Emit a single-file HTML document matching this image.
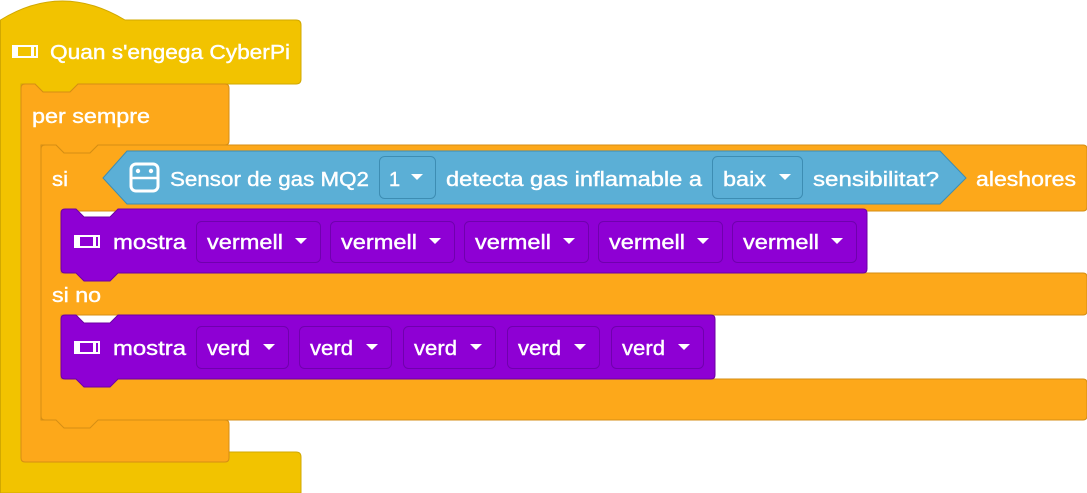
<!DOCTYPE html>
<html><head><meta charset="utf-8"><style>
html,body{margin:0;padding:0;background:#fff;width:1087px;height:493px;overflow:hidden}
svg{display:block}
text{font-family:"Liberation Sans",sans-serif;font-size:20px;fill:#fff;stroke:#fff;stroke-width:0.4}
</style></head><body>
<svg width="1087" height="493" viewBox="0 0 1087 493">
<path d="M0.5,20 Q62,-18 125,20 L296,20 Q301,20 301,25 L301,79 Q301,84 296,84 L78,84 L70,92 L43,92 L35,84 L21,84 L21,452 L296,452 Q301,452 301,457 L301,493 L0.5,493 Z" fill="#F2C300" stroke="#D1A800" stroke-width="1"/>
<path d="M21,88 Q21,84 25,84 L35,84 L43,92 L70,92 L78,84 L225,84 Q229,84 229,88 L229,141 Q229,145 225,145 L98,145 L90,153 L64,153 L56,145 L41,145 L41,420 L225,420 Q229,420 229,424 L229,458 Q229,462 225,462 L25,462 Q21,462 21,458 Z" fill="#FDA81A" stroke="#D58E14" stroke-width="1"/>
<path d="M41,149 Q41,145 45,145 L56,145 L64,153 L90,153 L98,145 L1083,145 Q1087,145 1087,149 L1087,207 Q1087,211 1083,211 L61,211 L61,273 L1083,273 Q1087,273 1087,277 L1087,311 Q1087,315 1083,315 L61,315 L61,379 L1083,379 Q1087,379 1087,383 L1087,416 Q1087,420 1083,420 L98,420 L90,428 L64,428 L56,420 L45,420 Q41,420 41,416 Z" fill="#FDA81A" stroke="#D58E14" stroke-width="1"/>
<path d="M127,151 L940,151 L966,178 L940,204 L127,204 L103,178 Z" fill="#5BAFD6" stroke="#3D8DB3" stroke-width="1"/>
<path d="M61,213 Q61,209 65,209 L76,209 L84,217 L110,217 L118,209 L863,209 Q867,209 867,213 L867,269 Q867,273 863,273 L118,273 L110,281 L84,281 L76,273 L65,273 Q61,273 61,269 Z" fill="#8E00D4" stroke="#6C00A3" stroke-width="1"/>
<path d="M61,319 Q61,315 65,315 L76,315 L84,323 L110,323 L118,315 L711,315 Q715,315 715,319 L715,375 Q715,379 711,379 L118,379 L110,387 L84,387 L76,379 L65,379 Q61,379 61,375 Z" fill="#8E00D4" stroke="#6C00A3" stroke-width="1"/>
<text x="50" y="59" textLength="240" lengthAdjust="spacingAndGlyphs">Quan s'engega CyberPi</text>
<text x="32" y="123" textLength="118" lengthAdjust="spacingAndGlyphs">per sempre</text>
<text x="52" y="186" textLength="16" lengthAdjust="spacingAndGlyphs">si</text>
<text x="976" y="186" textLength="100" lengthAdjust="spacingAndGlyphs">aleshores</text>
<text x="52" y="302" textLength="49" lengthAdjust="spacingAndGlyphs">si no</text>
<text x="170" y="186" textLength="199" lengthAdjust="spacingAndGlyphs">Sensor de gas MQ2</text>
<text x="446" y="186" textLength="256" lengthAdjust="spacingAndGlyphs">detecta gas inflamable a</text>
<text x="813" y="186" textLength="126" lengthAdjust="spacingAndGlyphs">sensibilitat?</text>
<rect x="379.5" y="156.5" width="56" height="42" rx="5" fill="#5BAFD6" stroke="#3D8DB3"/>
<text x="389" y="186">1</text><path d="M411,174 h12 l-6,6 z" fill="#fff"/>
<rect x="712.5" y="156.5" width="90" height="42" rx="5" fill="#5BAFD6" stroke="#3D8DB3"/>
<text x="723" y="186" textLength="43" lengthAdjust="spacingAndGlyphs">baix</text><path d="M779,174 h12 l-6,6 z" fill="#fff"/>
<rect x="131" y="164" width="27" height="27" rx="5" fill="none" stroke="#fff" stroke-width="3"/>
<line x1="131" y1="178" x2="158" y2="178" stroke="#fff" stroke-width="2.5"/>
<circle cx="138" cy="171" r="2.2" fill="#fff"/><circle cx="151" cy="171" r="2.2" fill="#fff"/>
<g fill="none" stroke="#fff" stroke-width="2">
<rect x="13" y="46" width="24" height="11"/>
<rect x="75" y="236" width="24" height="11"/>
<rect x="75" y="342" width="24" height="11"/>
</g>
<g fill="#fff">
<rect x="12" y="45" width="6" height="13"/><rect x="31" y="45" width="3" height="13"/>
<rect x="74" y="235" width="6" height="13"/><rect x="93" y="235" width="3" height="13"/>
<rect x="74" y="341" width="6" height="13"/><rect x="93" y="341" width="3" height="13"/>
</g>
<text x="113" y="249" textLength="73" lengthAdjust="spacingAndGlyphs">mostra</text>
<text x="113" y="355" textLength="73" lengthAdjust="spacingAndGlyphs">mostra</text>
<g fill="#8E00D4" stroke="#7000AE">
<rect x="196.5" y="221.5" width="124" height="41" rx="5"/>
<rect x="330.5" y="221.5" width="124" height="41" rx="5"/>
<rect x="464.5" y="221.5" width="124" height="41" rx="5"/>
<rect x="598.5" y="221.5" width="124" height="41" rx="5"/>
<rect x="732.5" y="221.5" width="124" height="41" rx="5"/>
<rect x="196.5" y="326.5" width="92" height="42" rx="5"/>
<rect x="299.5" y="326.5" width="92" height="42" rx="5"/>
<rect x="403.5" y="326.5" width="92" height="42" rx="5"/>
<rect x="507.5" y="326.5" width="92" height="42" rx="5"/>
<rect x="611.5" y="326.5" width="92" height="42" rx="5"/>
</g>
<g>
<text x="207" y="249" textLength="76" lengthAdjust="spacingAndGlyphs">vermell</text>
<text x="341" y="249" textLength="76" lengthAdjust="spacingAndGlyphs">vermell</text>
<text x="475" y="249" textLength="76" lengthAdjust="spacingAndGlyphs">vermell</text>
<text x="609" y="249" textLength="76" lengthAdjust="spacingAndGlyphs">vermell</text>
<text x="743" y="249" textLength="76" lengthAdjust="spacingAndGlyphs">vermell</text>
<text x="207" y="355" textLength="43" lengthAdjust="spacingAndGlyphs">verd</text>
<text x="310" y="355" textLength="43" lengthAdjust="spacingAndGlyphs">verd</text>
<text x="414" y="355" textLength="43" lengthAdjust="spacingAndGlyphs">verd</text>
<text x="518" y="355" textLength="43" lengthAdjust="spacingAndGlyphs">verd</text>
<text x="622" y="355" textLength="43" lengthAdjust="spacingAndGlyphs">verd</text>
</g>
<g fill="#fff">
<path d="M295,238 h12 l-6,6 z"/><path d="M429,238 h12 l-6,6 z"/><path d="M563,238 h12 l-6,6 z"/><path d="M697,238 h12 l-6,6 z"/><path d="M831,238 h12 l-6,6 z"/>
<path d="M263,344 h12 l-6,6 z"/><path d="M366,344 h12 l-6,6 z"/><path d="M470,344 h12 l-6,6 z"/><path d="M574,344 h12 l-6,6 z"/><path d="M678,344 h12 l-6,6 z"/>
</g>
</svg>
</body></html>
